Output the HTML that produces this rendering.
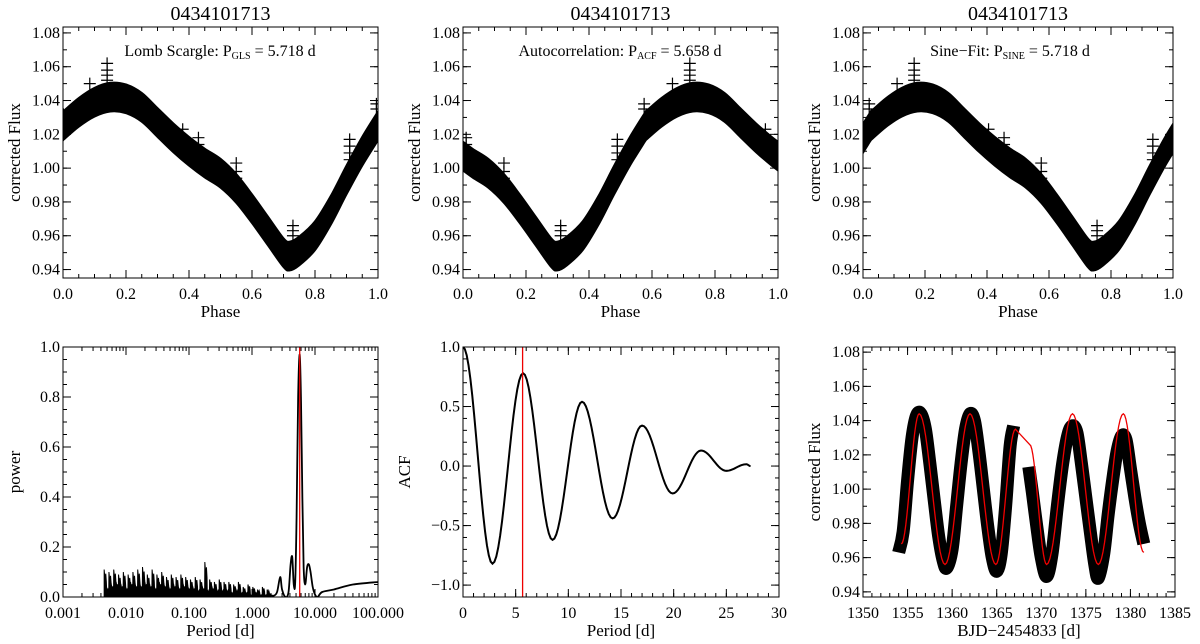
<!DOCTYPE html>
<html><head><meta charset="utf-8">
<style>
html,body{margin:0;padding:0;background:#fff;}
svg{display:block;font-family:"Liberation Serif",serif;}
</style></head>
<body>
<svg id="fig" width="1200" height="644" viewBox="0 0 1200 644" xmlns="http://www.w3.org/2000/svg"></svg>
<script>
// ---------- data ----------
const bandPhase = [0,0.05,0.1,0.15,0.2,0.25,0.3,0.35,0.4,0.45,0.5,0.55,0.6,0.65,0.7,0.72,0.75,0.8,0.85,0.9,0.95,1.0];
const bandFlux  = [1.025,1.033,1.039,1.042,1.041,1.036,1.027,1.018,1.010,1.003,0.997,0.988,0.976,0.963,0.950,0.948,0.951,0.960,0.975,0.993,1.010,1.025];
const bandHalf = 0.0085;
const outPhase = [0.14,0.14,0.14,0.14,0.085,0.38,0.38,0.43,0.43,0.43,0.55,0.55,0.55,0.55,0.73,0.73,0.73,0.91,0.91,0.91,0.91,0.995,0.995];
const outFlux  = [1.062,1.058,1.055,1.052,1.050,1.023,1.018,1.018,1.014,1.010,1.003,0.998,0.994,0.991,0.966,0.963,0.960,1.017,1.013,1.009,1.005,1.038,1.035];
const phaseShifts = [0, 0.58, 0.025];
const panelTitles = ["0434101713","0434101713","0434101713"];

const noiseHeights = [0.11,0.04,0.10,0.05,0.11,0.06,0.09,0.05,0.10,0.04,0.09,0.06,0.10,0.05,0.11,0.05,0.12,0.06,0.09,0.05,0.11,0.04,0.09,0.06,0.10,0.05,0.08,0.04,0.09,0.05,0.08,0.04,0.09,0.05,0.08,0.04,0.07,0.04,0.08,0.03,0.07,0.04,0.14,0.03,0.07,0.04,0.06,0.03,0.07,0.03,0.06,0.03,0.06,0.02,0.05,0.03,0.06,0.02,0.04,0.02,0.05,0.01,0.04,0.02,0.03,0.01,0.04,0.01,0.03,0.01];
const noisePmin = 0.0045, noisePmax = 1.9;
const peakPeriod = [1.9,2.2,2.5,2.8,3.0,3.4,3.8,4.1,4.35,4.6,4.85,5.1,5.4,5.72,6.0,6.3,6.6,7.0,7.5,8.0,8.5,9.2,10.0,11.0,13.0,20.0,40.0,100.0];
const peakPower  = [0.01,0.005,0.02,0.08,0.03,0.0,0.02,0.13,0.16,0.05,0.06,0.32,0.80,0.97,0.78,0.40,0.12,0.05,0.12,0.13,0.10,0.04,0.01,0.0,0.02,0.03,0.05,0.06];
const glsPeriod = 5.718;

const acfLag = [0,2.8,5.7,8.5,11.3,14.2,17.0,19.9,22.6,25.0,26.9,27.3];
const acfVal = [1.0,-0.82,0.78,-0.62,0.54,-0.44,0.34,-0.23,0.13,-0.04,0.015,0.0];
const acfPeriod = 5.658;

const obsT1 = [1354.0,1354.5,1355.0,1355.5,1356.0,1356.5,1357.0,1357.5,1358.0,1358.5,1359.0,1359.4,1360.0,1360.5,1361.0,1361.5,1362.0,1362.5,1363.0,1363.5,1364.0,1364.5,1365.0,1365.5,1366.0,1366.5,1366.9];
const obsF1 = [0.963,0.975,1.005,1.030,1.043,1.044,1.035,1.015,0.993,0.972,0.958,0.954,0.965,0.990,1.015,1.035,1.044,1.040,1.022,1.000,0.978,0.960,0.952,0.962,0.990,1.025,1.037];
const obsT2 = [1368.6,1369.0,1369.5,1370.0,1370.6,1371.2,1371.8,1372.4,1373.0,1373.5,1374.0,1374.5,1375.0,1375.5,1376.0,1376.4,1377.0,1377.5,1378.0,1378.5,1379.0,1379.5,1380.0,1380.5,1381.0,1381.5];
const obsF2 = [1.013,0.998,0.978,0.960,0.949,0.962,0.990,1.015,1.032,1.037,1.033,1.015,0.995,0.975,0.956,0.948,0.962,0.985,1.005,1.022,1.031,1.029,1.012,0.995,0.980,0.968];
const fitT1 = [1354.3,1356.3,1359.2,1362.0,1364.9,1367.1];
const fitF1 = [0.968,1.044,0.956,1.044,0.956,1.035];
const fitT2 = [1368.7,1370.6,1373.5,1376.4,1379.2,1381.5];
const fitF2 = [1.026,0.956,1.044,0.956,1.044,0.963];

// ---------- helpers ----------
const NS="http://www.w3.org/2000/svg";
const svg=document.getElementById('fig');
function el(tag,attrs,parent){const e=document.createElementNS(NS,tag);for(const k in attrs)e.setAttribute(k,attrs[k]);(parent||svg).appendChild(e);return e;}
function txt(s,x,y,size,anchor,parent){const t=el('text',{x:x,y:y,'font-size':size,'text-anchor':anchor||'middle',fill:'#000'},parent);t.textContent=s;return t;}
function smooth(pts){
  let d='M'+pts[0][0]+','+pts[0][1];
  for(let i=0;i<pts.length-1;i++){
    const p0=pts[Math.max(0,i-1)],p1=pts[i],p2=pts[i+1],p3=pts[Math.min(pts.length-1,i+2)];
    const c1=[p1[0]+(p2[0]-p0[0])/6,p1[1]+(p2[1]-p0[1])/6];
    const c2=[p2[0]-(p3[0]-p1[0])/6,p2[1]-(p3[1]-p1[1])/6];
    d+=' C'+c1[0]+','+c1[1]+' '+c2[0]+','+c2[1]+' '+p2[0]+','+p2[1];
  }
  return d;
}
function cosPath(xs,ys,sx,sy,start){
  let d=(start||'M')+sx(xs[0])+','+sy(ys[0]);
  for(let i=0;i<xs.length-1;i++){
    for(let k=1;k<=16;k++){const t=k/16;const x=xs[i]+(xs[i+1]-xs[i])*t;const y=ys[i]+(ys[i+1]-ys[i])*(1-Math.cos(Math.PI*t))/2;
      d+=' L'+sx(x).toFixed(2)+','+sy(y).toFixed(2);}
  }
  return d;
}
let clipN=0;
const TF=16;
function makePanel(o){
  const g=el('g',{});
  
  
  const lg=v=>Math.log10(v);
  const sx=o.log?(v=>o.x0+(lg(v)-lg(o.xmin))/(lg(o.xmax)-lg(o.xmin))*(o.x1-o.x0)):(v=>o.x0+(v-o.xmin)/(o.xmax-o.xmin)*(o.x1-o.x0));
  const sy=v=>o.y1-(v-o.ymin)/(o.ymax-o.ymin)*(o.y1-o.y0);
  const id='clip'+(clipN++);
  const cp=el('clipPath',{id:id},g);el('rect',{x:o.x0,y:o.y0,width:o.x1-o.x0,height:o.y1-o.y0},cp);
  const plot=el('g',{'clip-path':'url(#'+id+')'},g);
  
  
  const tg=el('g',{stroke:'#000','stroke-width':1},g);
  
  
  const xl=el('g',{},g);
  
  
  o.xMajor.forEach((v,i)=>{const x=sx(v);
    el('line',{x1:x,y1:o.y1,x2:x,y2:o.y1-8},tg);el('line',{x1:x,y1:o.y0,x2:x,y2:o.y0+8},tg);
    txt(o.xLabels[i],x,o.y1+21,TF,'middle',xl);});
  o.xMinor.forEach(v=>{const x=sx(v);
    el('line',{x1:x,y1:o.y1,x2:x,y2:o.y1-4},tg);el('line',{x1:x,y1:o.y0,x2:x,y2:o.y0+4},tg);});
  const yl=el('g',{},g);
  
  
  o.yMajor.forEach((v,i)=>{const y=sy(v);
    el('line',{x1:o.x0,y1:y,x2:o.x0+8,y2:y},tg);el('line',{x1:o.x1,y1:y,x2:o.x1-8,y2:y},tg);
    txt(o.yLabels[i],o.x0-3,y+5,TF,'end',yl);});
  o.yMinor.forEach(v=>{const y=sy(v);
    el('line',{x1:o.x0,y1:y,x2:o.x0+4,y2:y},tg);el('line',{x1:o.x1,y1:y,x2:o.x1-4,y2:y},tg);});
  const box=el('rect',{x:o.x0,y:o.y0,width:o.x1-o.x0,height:o.y1-o.y0,fill:'none',stroke:'#000','stroke-width':1},g);
  
  
  const xt=txt(o.xTitle,(o.x0+o.x1)/2,o.y1+39,17,'middle',g);
  
  
  const yc=(o.y0+o.y1)/2, yx=o.yTitleX;
  const yt=txt(o.yTitle,yx,yc,17,'middle',g);yt.setAttribute('transform','rotate(-90 '+yx+' '+yc+')');
  
  
  return {g,plot,sx,sy};
}
function range(a,b,s){const r=[];for(let v=a;v<=b+1e-9;v+=s)r.push(+v.toFixed(6));return r;}

// ---------- top phase panels ----------
const topX=[[63,378],[463,778],[863,1173]];
const annot=[["Lomb Scargle: P","GLS"," =   5.718 d",220],["Autocorrelation: P","ACF"," =   5.658 d",620],["Sine\u2212Fit: P","SINE"," =   5.718 d",1010]];
const yTitleXs=[20,420,820];
for(let p=0;p<3;p++){
  const P=makePanel({name:'phase-panel-'+(p+1),x0:topX[p][0],x1:topX[p][1],y0:27,y1:278,xmin:0,xmax:1,ymin:0.935,ymax:1.0835,
    xMajor:[0,0.2,0.4,0.6,0.8,1.0],xLabels:['0.0','0.2','0.4','0.6','0.8','1.0'],xMinor:range(0,1,0.05),
    yMajor:[0.94,0.96,0.98,1.00,1.02,1.04,1.06,1.08],yLabels:['0.94','0.96','0.98','1.00','1.02','1.04','1.06','1.08'],yMinor:range(0.94,1.08,0.01),
    xTitle:'Phase',yTitle:'corrected Flux',yTitleX:yTitleXs[p]});
  const sh=phaseShifts[p];
  [-1,0,1].forEach(k=>{
    const up=bandPhase.map((ph,i)=>[P.sx(ph+sh+k),P.sy(bandFlux[i]+bandHalf)]);
    const lo=bandPhase.map((ph,i)=>[P.sx(ph+sh+k),P.sy(bandFlux[i]-bandHalf)]).reverse();
    const sl=smooth(lo);
    const d=smooth(up)+' L'+lo[0][0]+','+lo[0][1]+sl.slice(sl.indexOf('C')-1)+' Z';
    const b=el('path',{d:d,fill:'#000',stroke:'#000','stroke-width':2},P.plot);
    
    
  });
  outPhase.forEach((ph,i)=>{let q=ph+sh;q=q-Math.floor(q);const x=P.sx(q),y=P.sy(outFlux[i]);
    const c=el('path',{d:'M'+(x-6)+','+y+'H'+(x+6)+'M'+x+','+(y-6)+'V'+(y+6),stroke:'#000','stroke-width':1.2},P.plot);
    
    });
  const t=txt(panelTitles[p],(topX[p][0]+topX[p][1])/2,20,20,'middle',P.g);
  
  
  const a=el('text',{x:annot[p][3],y:56,'font-size':16,'text-anchor':'middle',fill:'#000'},P.g);
  
  
  const s1=el('tspan',{},a);s1.textContent=annot[p][0];
  const s2=el('tspan',{'font-size':10,dy:3},a);s2.textContent=annot[p][1];
  const s3=el('tspan',{dy:-3},a);s3.textContent=annot[p][2];
}

// ---------- periodogram ----------
(function(){
  const minors=[];for(let e=-3;e<2;e++)for(let m=2;m<=9;m++)minors.push(m*Math.pow(10,e));
  const P=makePanel({name:'periodogram-panel',log:true,x0:63,x1:378,y0:347,y1:597,xmin:0.001,xmax:100,ymin:0,ymax:1.0,
    xMajor:[0.001,0.01,0.1,1,10,100],xLabels:['0.001','0.010','0.100','1.000','10.000','100.000'],xMinor:minors,
    yMajor:[0,0.2,0.4,0.6,0.8,1.0],yLabels:['0.0','0.2','0.4','0.6','0.8','1.0'],yMinor:range(0,1,0.05),
    xTitle:'Period [d]',yTitle:'power',yTitleX:20});
  const n=noiseHeights.length;let d='M'+P.sx(noisePmin)+','+P.sy(0);
  const la=Math.log10(noisePmin),lb=Math.log10(noisePmax);
  noiseHeights.forEach((h,i)=>{const per=Math.pow(10,la+(lb-la)*i/(n-1));const x=P.sx(per);
    d+=' L'+x+','+P.sy(h)+' L'+(x+1)+','+P.sy(h*0.6)+' L'+(x+1.6)+','+P.sy(h*0.85)+' L'+(x+2.2)+','+P.sy(h*0.55);});
  d+=' L'+P.sx(noisePmax)+','+P.sy(0)+' Z';
  const nz=el('path',{d:d,fill:'#000',stroke:'#000','stroke-width':1},P.plot);
  
  
  const pk=el('path',{d:smooth(peakPeriod.map((v,i)=>[P.sx(v),P.sy(peakPower[i])])),fill:'none',stroke:'#000','stroke-width':1.8},P.plot);
  
  
  const r=el('line',{x1:P.sx(glsPeriod),x2:P.sx(glsPeriod),y1:347,y2:597,stroke:'#e00','stroke-width':1.3},P.plot);
  
  
})();

// ---------- ACF ----------
(function(){
  const P=makePanel({name:'acf-panel',x0:463,x1:779,y0:347,y1:597,xmin:0,xmax:30,ymin:-1.1,ymax:1.0,
    xMajor:[0,5,10,15,20,25,30],xLabels:['0','5','10','15','20','25','30'],xMinor:range(0,30,1),
    yMajor:[-1,-0.5,0,0.5,1.0],yLabels:['\u22121.0','\u22120.5','0.0','0.5','1.0'],yMinor:range(-1.1,1.0,0.1),
    xTitle:'Period [d]',yTitle:'ACF',yTitleX:410});
  const l=el('path',{d:cosPath(acfLag,acfVal,P.sx,P.sy),fill:'none',stroke:'#000','stroke-width':2},P.plot);
  
  
  const r=el('line',{x1:P.sx(acfPeriod),x2:P.sx(acfPeriod),y1:347,y2:597,stroke:'#e00','stroke-width':1.3},P.plot);
  
  
})();

// ---------- light curve ----------
(function(){
  const P=makePanel({name:'light-curve-panel',x0:863,x1:1175,y0:347,y1:597,xmin:1350,xmax:1385,ymin:0.937,ymax:1.083,
    xMajor:[1350,1355,1360,1365,1370,1375,1380,1385],xLabels:['1350','1355','1360','1365','1370','1375','1380','1385'],xMinor:range(1350,1385,1),
    yMajor:[0.94,0.96,0.98,1.00,1.02,1.04,1.06,1.08],yLabels:['0.94','0.96','0.98','1.00','1.02','1.04','1.06','1.08'],yMinor:range(0.94,1.08,0.01),
    xTitle:'BJD\u22122454833 [d]',yTitle:'corrected Flux',yTitleX:820});
  [[obsT1,obsF1],[obsT2,obsF2]].forEach(s=>{
    const o=el('path',{d:smooth(s[0].map((v,i)=>[P.sx(v),P.sy(s[1][i])])),fill:'none',stroke:'#000','stroke-width':13,'stroke-linejoin':'round','stroke-linecap':'butt'},P.plot);
    
    
  });
  const fd=cosPath(fitT1,fitF1,P.sx,P.sy)+' '+cosPath(fitT2,fitF2,P.sx,P.sy,'L');
  const f=el('path',{d:fd,fill:'none',stroke:'#e00','stroke-width':1.3},P.plot);
  
  
})();
</script>
</body></html>
